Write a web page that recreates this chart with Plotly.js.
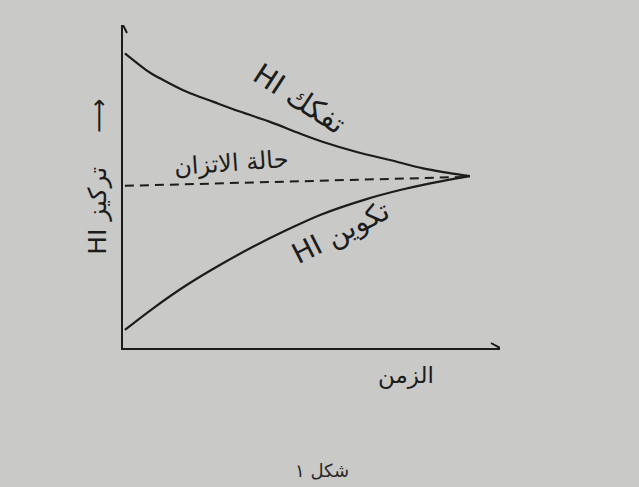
<!DOCTYPE html>
<html>
<head>
<meta charset="utf-8">
<script src="https://cdn.plot.ly/plotly-3.0.1.min.js"></script>
<style>html,body{margin:0;padding:0;background:#c9c9c7;}#chart{width:639px;height:487px;}</style>
</head>
<body>
<div id="chart"></div>
<script>
// Time samples (arbitrary units) for the HI decomposition curve
const timeTop = [0.05, 0.45, 0.72, 0.98, 1.69, 2.40, 3.10, 3.90, 4.69, 5.31, 6.20, 7.08, 7.96, 8.59, 9.20];
// HI decomposition concentration (falls toward equilibrium)
const decompHI = [9.12, 8.75, 8.52, 8.35, 7.93, 7.62, 7.32, 7.00, 6.64, 6.38, 6.07, 5.82, 5.56, 5.43, 5.32];
// Time samples for the HI formation curve
const timeBottom = [0.05, 0.80, 1.69, 2.57, 3.46, 4.34, 5.23, 6.46, 7.35, 7.96, 8.85, 9.20];
// HI formation concentration (rises toward equilibrium)
const formHI = [0.56, 1.23, 1.95, 2.57, 3.14, 3.65, 4.12, 4.61, 4.89, 5.05, 5.25, 5.32];
// Equilibrium (dashed) line
const timeEq = [0.05, 9.20];
const eqHI = [5.02, 5.30];

const ink = '#1c1c1c';
const arabicFont = 'DejaVu Sans';

const traces = [
  {x: timeTop, y: decompHI, mode: 'lines', line: {color: ink, width: 2.2, shape: 'spline', smoothing: 1}, hoverinfo: 'skip'},
  {x: timeBottom, y: formHI, mode: 'lines', line: {color: ink, width: 2.2, shape: 'spline', smoothing: 1}, hoverinfo: 'skip'},
  {x: timeEq, y: eqHI, mode: 'lines', line: {color: ink, width: 2, dash: '9px,6px'}, hoverinfo: 'skip'}
];

const layout = {
  width: 639, height: 487,
  margin: {l: 123, r: 139, t: 25, b: 139},
  paper_bgcolor: '#c9c9c7',
  plot_bgcolor: '#c9c9c7',
  showlegend: false,
  xaxis: {range: [0, 10], showline: true, linecolor: ink, linewidth: 2, showgrid: false, zeroline: false, showticklabels: false, ticks: ''},
  yaxis: {range: [0, 10], showline: true, linecolor: ink, linewidth: 2, showgrid: false, zeroline: false, showticklabels: false, ticks: ''},
  shapes: [
    {type: 'path', xref: 'x', yref: 'y', xsizemode: 'pixel', ysizemode: 'pixel', xanchor: 0, yanchor: 10,
     path: 'M-4,-8 L0,0 L4,-8', line: {color: ink, width: 2}},
    {type: 'path', xref: 'x', yref: 'y', xsizemode: 'pixel', ysizemode: 'pixel', xanchor: 10, yanchor: 0,
     path: 'M-9,5 L0,0 L-9,-5', line: {color: ink, width: 2}}
  ],
  annotations: [
    {xref: 'paper', yref: 'paper', x: -0.066, y: 0.425, xanchor: 'center', yanchor: 'middle',
     text: 'HI تركيز', textangle: -90, showarrow: false,
     font: {family: arabicFont, size: 25, color: ink}},
    {xref: 'paper', yref: 'paper', x: -0.063, y: 0.72, xanchor: 'center', yanchor: 'middle',
     text: '⟶', textangle: -90, showarrow: false,
     font: {family: arabicFont, size: 24, color: ink}},
    {xref: 'x', yref: 'y', x: 4.69, y: 7.71, xanchor: 'center', yanchor: 'middle',
     text: 'HI تفكك', textangle: 33, showarrow: false,
     font: {family: arabicFont, size: 29, color: ink}},
    {xref: 'x', yref: 'y', x: 2.89, y: 5.73, xanchor: 'center', yanchor: 'middle',
     text: 'حالة الاتزان', textangle: -4, showarrow: false,
     font: {family: arabicFont, size: 24, color: ink}},
    {xref: 'x', yref: 'y', x: 5.76, y: 3.59, xanchor: 'center', yanchor: 'middle',
     text: 'HI تكوين', textangle: -27, showarrow: false,
     font: {family: arabicFont, size: 28, color: ink}},
    {xref: 'x', yref: 'paper', x: 7.5, y: -0.085, xanchor: 'center', yanchor: 'middle',
     text: 'الزمن', showarrow: false,
     font: {family: arabicFont, size: 23, color: ink}},
    {xref: 'paper', yref: 'paper', x: 0.528, y: -0.378, xanchor: 'center', yanchor: 'middle',
     text: 'شكل ١', showarrow: false,
     font: {family: arabicFont, size: 18, color: '#2a2a2a'}}
  ]
};

Plotly.newPlot('chart', traces, layout, {staticPlot: true, displayModeBar: false});
</script>
</body>
</html>
